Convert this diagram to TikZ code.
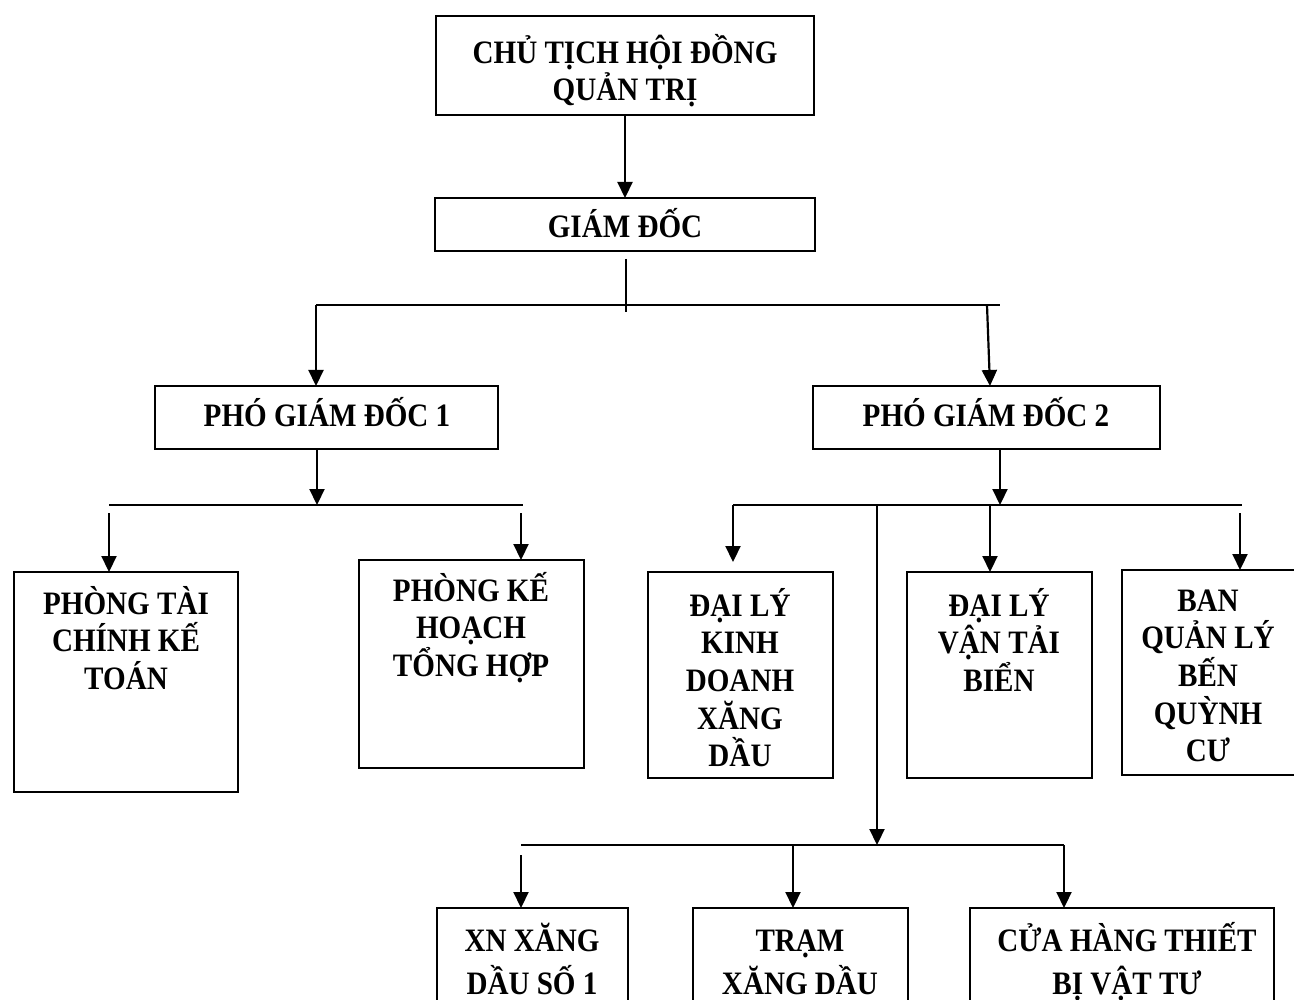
\documentclass[tikz,border=0pt]{standalone}
\usepackage{fontspec}
\setmainfont{Liberation Serif}[FakeStretch=0.89]
\usetikzlibrary{arrows.meta}
\newcommand{\tS}{\rule{0pt}{36pt}}
\newcommand{\bS}{\rule[-12pt]{0pt}{12pt}}
\begin{document}
\begin{tikzpicture}[x=1pt,y=-1pt,
  box/.style={draw, line width=2.2pt, inner sep=0pt, outer sep=0pt, anchor=north west},
  txt/.style={font=\bfseries\fontsize{32.7}{37.6}\selectfont, align=center, inner sep=0pt},
  txtb/.style={font=\bfseries\fontsize{32.7}{43}\selectfont, align=center, inner sep=0pt},
  ln/.style={line width=2.2pt},
  arr/.style={line width=2.2pt, -{Triangle[length=16pt,width=15pt]}}]
\useasboundingbox (0,0) rectangle (1294,1000);
\fill[white] (0,0) rectangle (1294,1000);
\clip (0,0) rectangle (1294,1000);

% boxes
\node[box, minimum width=378, minimum height=99] (ct) at (436,16) {};
\node[box, minimum width=380, minimum height=53] (gd) at (435,198) {};
\node[box, minimum width=343, minimum height=63] (pg1) at (155,386) {};
\node[box, minimum width=347, minimum height=63] (pg2) at (813,386) {};
\node[box, minimum width=224, minimum height=220] (ptc) at (14,572) {};
\node[box, minimum width=225, minimum height=208] (pkh) at (359,560) {};
\node[box, minimum width=185, minimum height=206] (dlkd) at (648,572) {};
\node[box, minimum width=185, minimum height=206] (dlvt) at (907,572) {};
\node[box, minimum width=180, minimum height=205] (ban) at (1122,570) {};
\node[box, minimum width=191, minimum height=120] (xn) at (437,908) {};
\node[box, minimum width=215, minimum height=120] (tram) at (693,908) {};
\node[box, minimum width=304, minimum height=120] (cua) at (970,908) {};

% texts
\node[txt, anchor=north] (tct) at (625,27) {\tS CHỦ TỊCH HỘI ĐỒNG\\QUẢN TRỊ\bS};
\node[txt] (tgd) at (625,226) {\tS GIÁM ĐỐC\bS};
\node[txt] (tpg1) at (327,414) {\tS PHÓ GIÁM ĐỐC 1\bS};
\node[txt] (tpg2) at (986,414) {\tS PHÓ GIÁM ĐỐC 2\bS};
\node[txt, anchor=north] (tptc) at (126,578) {\tS PHÒNG TÀI\\CHÍNH KẾ\\TOÁN\bS};
\node[txt, anchor=north] (tpkh) at (471,565) {\tS PHÒNG KẾ\\HOẠCH\\TỔNG HỢP\bS};
\node[txt, anchor=north] (tdlkd) at (740,580) {\tS ĐẠI LÝ\\KINH\\DOANH\\XĂNG\\DẦU\bS};
\node[txt, anchor=north] (tdlvt) at (999,580) {\tS ĐẠI LÝ\\VẬN TẢI\\BIỂN\bS};
\node[txt, anchor=north] (tban) at (1208,575) {\tS BAN\\QUẢN LÝ\\BẾN\\QUỲNH\\CƯ\bS};
\node[txtb, anchor=north] (txn) at (532,915) {\tS XN XĂNG\\DẦU SỐ 1\bS};
\node[txtb, anchor=north] (ttram) at (800,915) {\tS TRẠM\\XĂNG DẦU\bS};
\node[txtb, anchor=north] (tcua) at (1127,915) {\tS CỬA HÀNG THIẾT\\BỊ VẬT TƯ\bS};

% connector points
\coordinate (g1) at (626,259);
\coordinate (g2) at (626,312);
\coordinate (hl) at (316,305);
\coordinate (hr) at (1000,305);
\coordinate (a2) at (987,305);
\coordinate (a2e) at (990,386);
\coordinate (b1) at (317,505);
\coordinate (l1a) at (109,505);
\coordinate (l1b) at (523,505);
\coordinate (c1) at (109,513);
\coordinate (c2) at (521,513);
\coordinate (b2) at (1000,505);
\coordinate (r1a) at (733,505);
\coordinate (r1b) at (1242,505);
\coordinate (dk) at (733,562);
\coordinate (v1) at (877,505);
\coordinate (v2) at (877,845);
\coordinate (d2) at (990,505);
\coordinate (d3) at (1240,513);
\coordinate (m1a) at (521,845);
\coordinate (m1b) at (1064,845);
\coordinate (e1) at (521,855);
\coordinate (e2) at (793,845);

% connectors
\draw[arr] (ct) -- (gd);
\draw[ln] (g1) -- (g2);
\draw[ln] (hl) -- (hr);
\draw[arr] (hl) -- (hl |- pg1.north);
\draw[arr] (a2) -- (a2e);
\draw[arr] (b1 |- pg1.south) -- (b1);
\draw[ln] (l1a) -- (l1b);
\draw[arr] (c1) -- (c1 |- ptc.north);
\draw[arr] (c2) -- (c2 |- pkh.north);
\draw[arr] (b2 |- pg2.south) -- (b2);
\draw[ln] (r1a) -- (r1b);
\draw[arr] (r1a) -- (dk);
\draw[arr] (v1) -- (v2);
\draw[arr] (d2) -- (d2 |- dlvt.north);
\draw[arr] (d3) -- (d3 |- ban.north);
\draw[ln] (m1a) -- (m1b);
\draw[arr] (e1) -- (e1 |- xn.north);
\draw[arr] (e2) -- (e2 |- tram.north);
\draw[arr] (m1b) -- (m1b |- cua.north);
\end{tikzpicture}
\end{document}
